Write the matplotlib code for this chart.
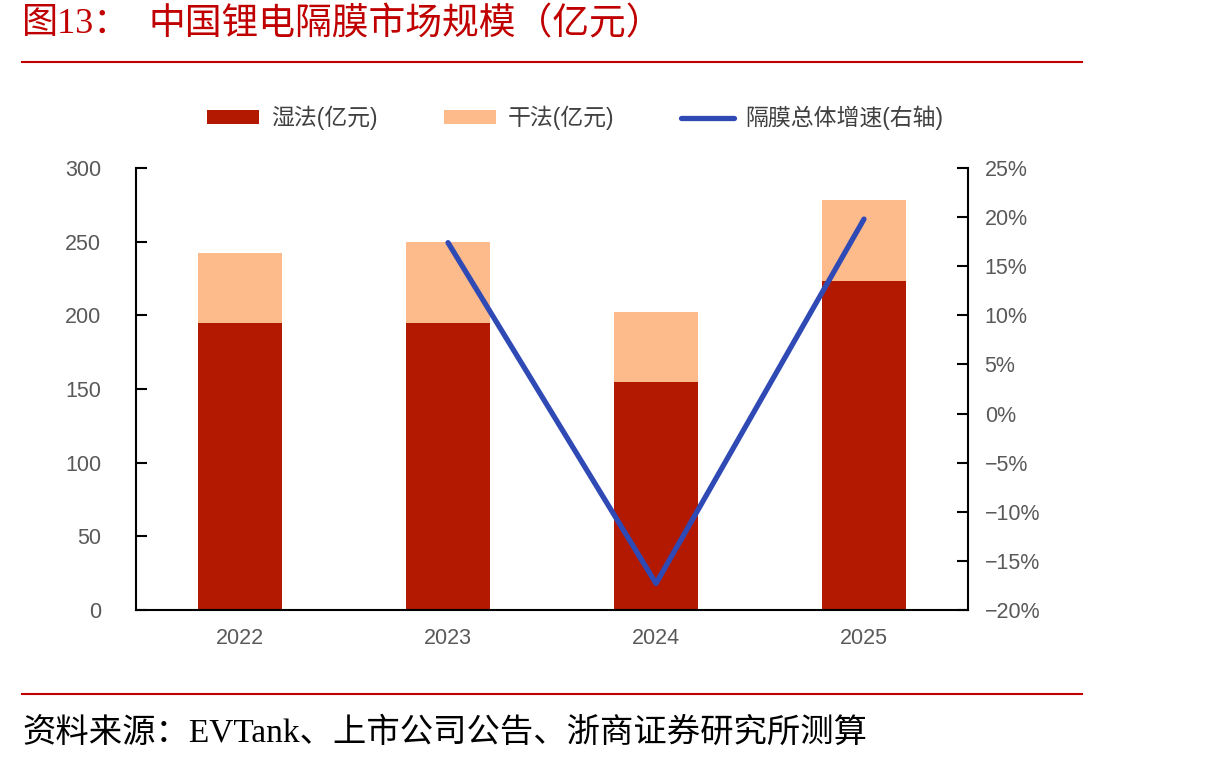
import matplotlib
matplotlib.use('Agg')
import matplotlib.pyplot as plt
from matplotlib.lines import Line2D
from matplotlib.ticker import FuncFormatter
import numpy as np

# data
years = ['2022', '2023', '2024', '2025']
wet = [194.6, 194.6, 155.0, 223.5]      # 湿法 (亿元)
dry = [47.5, 55.4, 47.3, 55.0]          # 干法 (亿元)
growth_years = ['2023', '2024', '2025']
growth = [17.4, -17.3, 19.8]            # 隔膜总体增速 (%)

red = '#B31800'
peach = '#FDBA8A'
blue = '#2F49B5'
title_red = '#C00000'

cjk = ['Liberation Serif', 'Noto Sans CJK SC']
sans = ['Liberation Sans', 'Noto Sans CJK SC']

fig = plt.figure(figsize=(12.1, 7.63), dpi=100)
ax = fig.add_axes([136/1210, 1-610/763, 832/1210, 442/763])
ax2 = ax.twinx()

x = np.arange(len(years))
ax.bar(x, wet, width=0.4, color=red, label='湿法(亿元)', zorder=2)
ax.bar(x, dry, width=0.4, bottom=wet, color=peach, label='干法(亿元)', zorder=2)

gx = [years.index(y) for y in growth_years]
ax2.plot(gx, growth, color=blue, lw=3.8, solid_capstyle='round', label='隔膜总体增速(右轴)')

ax.set_xlim(-0.5, 3.5)
ax.set_ylim(0, 300)
ax.set_yticks(range(0, 301, 50))
ax.set_xticks(x)
ax.set_xticklabels(years)
ax2.set_ylim(-20, 25)
ax2.set_yticks(range(-20, 26, 5))
ax2.yaxis.set_major_formatter(FuncFormatter(lambda v, p: f'{v:.0f}%'.replace('-', '\u2212')))

for a in (ax, ax2):
    a.spines['top'].set_visible(False)
    for s in a.spines.values():
        s.set_linewidth(1.5)
        s.set_color('black')
ax.spines['right'].set_visible(False)
ax2.spines['left'].set_visible(False)
ax2.spines['bottom'].set_visible(False)

ax.tick_params(axis='y', direction='in', length=8, width=1.5, labelsize=15.5, labelcolor='#595959', pad=25)
ax.tick_params(axis='x', length=0, labelsize=15.5, labelcolor='#595959', pad=13)
ax2.tick_params(axis='y', direction='in', length=8, width=1.5, labelsize=15.5, labelcolor='#595959', pad=12)
for lab in ax.get_yticklabels() + ax.get_xticklabels() + ax2.get_yticklabels():
    lab.set_family(sans)

# legend
h1, l1 = ax.get_legend_handles_labels()
h2, l2 = ax2.get_legend_handles_labels()
fig.legend(h1 + h2, l1 + l2, loc='center', bbox_to_anchor=(0.475, 1-118/763), ncol=3,
           frameon=False, prop={'family': sans, 'size': 16.5}, labelcolor='#404040',
           handlelength=2.3, handleheight=0.55, columnspacing=2.9, handletextpad=0.5)

# title, rules and source
fig.text(22/1210, 1-25/763, '图13：', color=title_red, fontsize=26, family=cjk, va='center')
fig.text(148/1210, 1-25/763, '中国锂电隔膜市场规模（亿元）', color=title_red, fontsize=26.5,
         family=cjk, va='center')
fig.add_artist(Line2D([22/1210, 1082/1210], [1-62/763]*2, color=title_red, lw=1.5))
fig.add_artist(Line2D([22/1210, 1082/1210], [1-694/763]*2, color=title_red, lw=1.5))
fig.text(22/1210, 1-733/763, '资料来源：EVTank、上市公司公告、浙商证券研究所测算', color='black',
         fontsize=24, family=cjk, va='center')

fig.savefig('out.png', dpi=100)
